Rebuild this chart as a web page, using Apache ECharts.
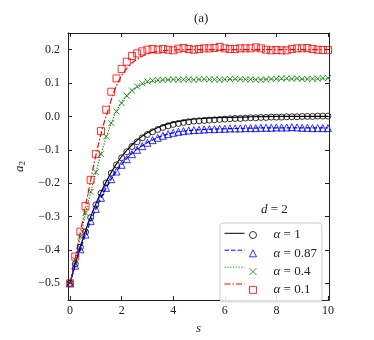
<!DOCTYPE html>
<html><head><meta charset="utf-8">
<script src="https://cdn.jsdelivr.net/npm/echarts@6/dist/echarts.min.js"></script>
<style>html,body{margin:0;padding:0;background:#fff}#c{width:374px;height:340px}</style>
</head><body><div id="c"></div>
<script>
// marker abscissae s = 0, 0.2, ..., 10
var markerS = [];
for (var i = 0; i <= 50; i++) markerS.push(+(i * 0.2).toFixed(1));
// theory-curve abscissae
var lineS = [0,0.25,0.5,0.75,1,1.25,1.5,1.75,2,2.25,2.5,2.75,3,3.5,4,4.5,5,6,7,8,9,10];

var names = ['α = 1', 'α = 0.87', 'α = 0.4', 'α = 0.1'];
var alphaVals = ['1', '0.87', '0.4', '0.1'];

// simulation markers
var mk1 = [-0.5,-0.442,-0.392,-0.346,-0.303,-0.265,-0.23,-0.199,-0.17,-0.145,-0.124,-0.106,-0.09,-0.076,-0.064,-0.054,-0.046,-0.039,-0.033,-0.028,-0.024,-0.021,-0.018,-0.016,-0.014,-0.013,-0.012,-0.011,-0.010,-0.009,-0.008,-0.007,-0.006,-0.006,-0.005,-0.004,-0.004,-0.003,-0.003,-0.002,-0.002,-0.002,-0.001,-0.001,-0.001,0,0,0,0.001,0.001,0.001];
var mk087 = [-0.5,-0.447,-0.398,-0.354,-0.313,-0.277,-0.244,-0.214,-0.188,-0.165,-0.145,-0.128,-0.113,-0.1,-0.089,-0.079,-0.071,-0.064,-0.058,-0.053,-0.049,-0.046,-0.044,-0.042,-0.041,-0.040,-0.039,-0.038,-0.038,-0.037,-0.037,-0.036,-0.036,-0.036,-0.035,-0.035,-0.035,-0.034,-0.034,-0.034,-0.033,-0.033,-0.033,-0.032,-0.033,-0.034,-0.034,-0.035,-0.035,-0.035,-0.035];
var mk04 = [-0.5,-0.43,-0.361,-0.289,-0.226,-0.167,-0.113,-0.06,-0.02,0.015,0.040,0.062,0.078,0.090,0.099,0.105,0.108,0.109,0.110,0.110,0.111,0.110,0.111,0.111,0.110,0.111,0.112,0.111,0.111,0.110,0.111,0.112,0.113,0.112,0.111,0.111,0.110,0.110,0.111,0.112,0.113,0.114,0.114,0.113,0.114,0.112,0.112,0.113,0.113,0.115,0.115];
var mk01 = [-0.5,-0.42,-0.345,-0.268,-0.19,-0.113,-0.044,0.02,0.074,0.114,0.142,0.164,0.181,0.189,0.195,0.200,0.202,0.200,0.202,0.200,0.198,0.203,0.205,0.202,0.200,0.202,0.204,0.204,0.205,0.208,0.204,0.202,0.202,0.204,0.204,0.204,0.207,0.204,0.200,0.198,0.199,0.198,0.198,0.202,0.204,0.204,0.205,0.202,0.200,0.199,0.199];

// theory curves
var ln1 = [-0.5,-0.428,-0.366,-0.31,-0.262,-0.219,-0.181,-0.148,-0.12,-0.097,-0.078,-0.062,-0.049,-0.030,-0.018,-0.011,-0.007,-0.003,-0.001,0,0,0];
var ln087 = [-0.5,-0.434,-0.375,-0.323,-0.277,-0.236,-0.2,-0.17,-0.144,-0.122,-0.104,-0.09,-0.078,-0.06,-0.049,-0.043,-0.04,-0.037,-0.035,-0.034,-0.034,-0.034];
var ln04 = [-0.5,-0.413,-0.326,-0.242,-0.168,-0.10,-0.04,0.008,0.043,0.066,0.082,0.094,0.102,0.108,0.11,0.11,0.11,0.11,0.111,0.112,0.112,0.113];
var ln01 = [-0.5,-0.404,-0.308,-0.21,-0.117,-0.038,0.025,0.083,0.122,0.149,0.166,0.178,0.187,0.196,0.199,0.2,0.2,0.2,0.2,0.2,0.2,0.2];

var xTicks = [0,2,4,6,8,10];
var yTicks = [-0.5,-0.4,-0.3,-0.2,-0.1,0.0,0.1,0.2];

var colors = ['#000000', '#0000ff', '#008000', '#ff0000'];
var lineTypes = ['solid', [4.5, 2], [1.2, 1.6], [6, 2, 1.5, 2]];
var symbols = ['circle', 'triangle', 'path://M0,0L10,10M10,0L0,10', 'rect'];
var symSizes = [6, 7, 6, 7];
var markers = [mk1, mk087, mk04, mk01];
var curves = [ln1, ln087, ln04, ln01];

function pairs(xs, ys) { return xs.map(function (x, i) { return [x, ys[i]]; }); }
function near(v, arr) { for (var k = 0; k < arr.length; k++) if (Math.abs(v - arr[k]) < 1e-6) return true; return false; }

var serif = 'Liberation Serif';
var series = [];
for (var k = 0; k < 4; k++) {
  series.push({
    name: 'L' + k, type: 'line', data: pairs(lineS, curves[k]), smooth: 0.35,
    symbol: 'circle', showSymbol: false, z: 2,
    lineStyle: { color: colors[k], width: 1.2, type: lineTypes[k] },
    itemStyle: { color: 'rgba(0,0,0,0)', borderColor: 'rgba(0,0,0,0)', borderWidth: 0 }
  });
}
for (var k = 0; k < 4; k++) {
  series.push({
    name: names[k], type: 'scatter', data: pairs(markerS, markers[k]),
    symbol: symbols[k], symbolSize: symSizes[k], z: 3,
    itemStyle: { color: 'rgba(0,0,0,0)', borderColor: colors[k], borderWidth: 1 }
  });
}

var axisCommon = {
  type: 'value',
  axisLine: { show: true, onZero: false, lineStyle: { color: '#222', width: 1 } },
  axisTick: { show: true, inside: true, length: 4, lineStyle: { color: '#222' } },
  splitLine: { show: false }
};

var option = {
  animation: false,
  backgroundColor: '#fff',
  title: [
    { text: '(a)', left: 189, top: 7, textStyle: { fontFamily: serif, fontSize: 13, fontWeight: 'normal', color: '#222' } },
    { text: '{i|d} = 2', left: 256, top: 198, textStyle: { fontFamily: serif, fontSize: 13, fontWeight: 'normal', color: '#222',
      rich: { i: { fontFamily: serif, fontStyle: 'italic', fontSize: 13, color: '#222' } } } }
  ],
  grid: { left: 68, right: 45, top: 33, bottom: 34, containLabel: false },
  xAxis: [
    Object.assign({}, axisCommon, {
      position: 'bottom', min: -0.08, max: 10.04, splitNumber: 5,
      name: 's', nameLocation: 'middle', nameGap: 22,
      nameTextStyle: { fontFamily: serif, fontStyle: 'italic', fontSize: 13, color: '#222' },
      axisLabel: { margin: 5, fontFamily: serif, fontSize: 12, color: '#222',
        formatter: function (v) { return near(v, xTicks) ? String(Math.round(v)) : ''; } }
    }),
    Object.assign({}, axisCommon, {
      position: 'top', min: -0.08, max: 10.04, splitNumber: 5, axisLabel: { show: false }
    })
  ],
  yAxis: [
    Object.assign({}, axisCommon, {
      position: 'left', min: -0.55, max: 0.25, splitNumber: 8,
      name: '{i|a}{s|2}', nameLocation: 'middle', nameGap: 38, nameRotate: 90,
      nameTextStyle: { color: '#222', rich: {
        i: { fontFamily: serif, fontStyle: 'italic', fontSize: 13, color: '#222' },
        s: { fontFamily: serif, fontSize: 9, color: '#222', padding: [7, 0, 0, 0] } } },
      axisLabel: { margin: 8, fontFamily: serif, fontSize: 12, color: '#222',
        formatter: function (v) {
          if (!near(v, yTicks)) return '';
          var s = Math.abs(v).toFixed(1);
          return (v < -1e-9 ? '\u2212' : '') + s;
        } }
    }),
    Object.assign({}, axisCommon, {
      position: 'right', min: -0.55, max: 0.25, splitNumber: 8, axisLabel: { show: false }
    })
  ],
  legend: [
    {
      data: names, orient: 'vertical', left: 220, top: 223,
      padding: [5, 5, 5, 29], itemGap: 4.3, itemWidth: 7, itemHeight: 7,
      backgroundColor: 'rgba(255,255,255,0.85)', borderColor: '#cccccc', borderWidth: 1, borderRadius: 3,
      z: 5,
      itemStyle: { borderWidth: 1 },
      formatter: function (n) { var j = names.indexOf(n); return '{g|}{i|α} = ' + alphaVals[j]; },
      textStyle: { fontFamily: serif, fontSize: 13, color: '#222', lineHeight: 14,
        rich: { g: { width: 12, lineHeight: 14 }, i: { fontFamily: serif, fontStyle: 'italic', fontSize: 13, color: '#222', lineHeight: 14 } } }
    },
    {
      data: ['L0', 'L1', 'L2', 'L3'], orient: 'vertical', left: 224, top: 226.3,
      padding: 0, itemGap: 4.3, itemWidth: 20, itemHeight: 14, z: 6,
      lineStyle: { width: 1 },
      formatter: function () { return ''; },
      textStyle: { fontSize: 8 }
    }
  ],
  series: series
};

var chart = echarts.init(document.getElementById('c'), null, { renderer: 'canvas' });
chart.setOption(option);
</script>
</body></html>
